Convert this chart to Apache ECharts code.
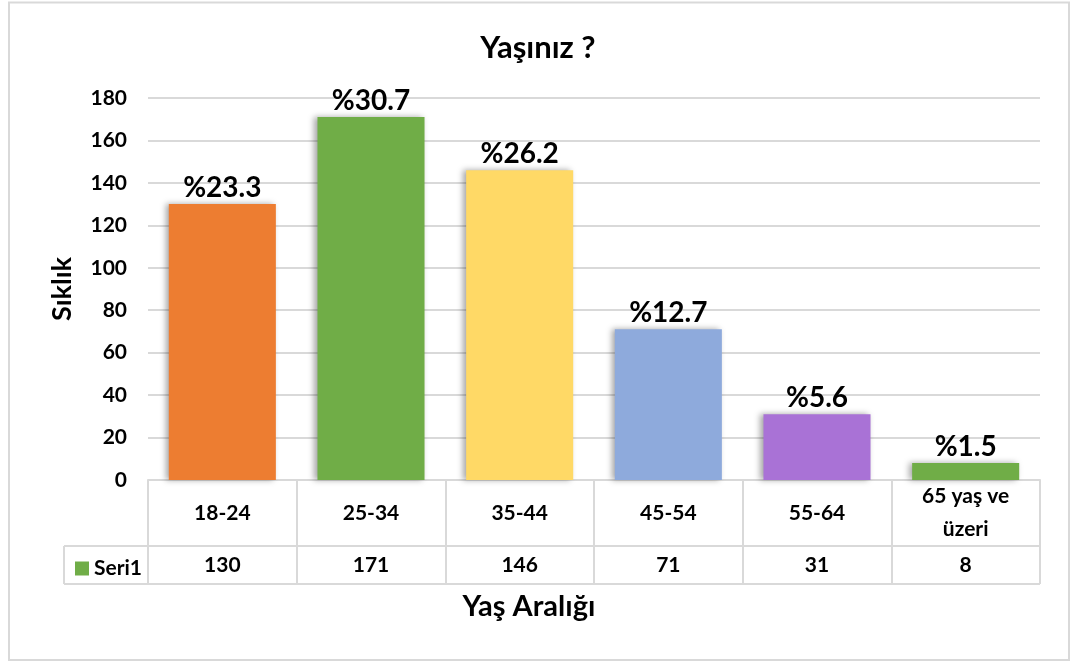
<!DOCTYPE html>
<html>
<head>
<meta charset="utf-8">
<script src="https://cdn.jsdelivr.net/npm/echarts@6/dist/echarts.min.js"></script>
<style>
    html, body { margin: 0; padding: 0; background: #fff; }
    #chart { width: 1076px; height: 662px; }
</style>
</head>
<body>
<div id="chart"></div>
<script>
var categories = ['18-24', '25-34', '35-44', '45-54', '55-64', '65 yaş ve\nüzeri'];
var values = [130, 171, 146, 71, 31, 8];
var percentLabels = ['%23.3', '%30.7', '%26.2', '%12.7', '%5.6', '%1.5'];
var barColors = ['#ed7d31', '#70ad47', '#ffd966', '#8eaadc', '#a972d6', '#70ad47'];
var yTicks = { min: 0, max: 180, interval: 20 };

var FONT = 'Lato, "Open Sans", sans-serif';
var gridColor = '#d9d9d9';

// plot area, the table sits right under it
var plotLeft = 148, plotRight = 1040, plotTop = 98, plotBottom = 480;
var rowLine = 546, tableBottom = 584, legendLeft = 64;

var chart = echarts.init(document.getElementById('chart'));

var barData = [];
for (var i = 0; i < values.length; i++) {
    barData.push({
        value: values[i],
        itemStyle: { color: barColors[i] }
    });
}

var option = {
    animation: false,
    backgroundColor: '#fff',
    textStyle: { fontFamily: FONT },
    title: [
        {
            text: 'Yaşınız ?',
            left: 'center',
            top: 27,
            textStyle: { fontSize: 31, fontWeight: 'bold', color: '#000', fontFamily: FONT }
        },
        {
            text: 'Yaş Aralığı',
            left: 524,
            textAlign: 'center',
            top: 587,
            textStyle: { fontSize: 29, fontWeight: 'bold', color: '#000', fontFamily: FONT }
        }
    ],
    legend: {
        data: ['Seri1'],
        left: 70,
        top: 553,
        icon: 'rect',
        itemWidth: 14,
        itemHeight: 14,
        itemGap: 6,
        textStyle: { fontSize: 21, fontWeight: 'bold', color: '#000', fontFamily: FONT }
    },
    grid: {
        left: plotLeft,
        right: 1076 - plotRight,
        top: plotTop,
        bottom: 662 - plotBottom,
        containLabel: false
    },
    xAxis: {
        type: 'category',
        data: categories,
        axisLine: { show: true, lineStyle: { color: gridColor, width: 2 } },
        axisTick: {
            show: true,
            interval: 0,
            alignWithLabel: false,
            length: tableBottom - plotBottom,
            lineStyle: { color: gridColor, width: 2 }
        },
        axisLabel: {
            interval: 0,
            margin: 0,
            formatter: function (val, idx) {
                var lines = val.split('\n');
                var head;
                if (lines.length > 1) {
                    head = '{h|' + lines[0] + '}\n{h|' + lines[1] + '}';
                }
                else {
                    head = '{c|' + val + '}';
                }
                return head + '\n{v|' + values[idx] + '}';
            },
            rich: {
                c: { fontSize: 21, fontWeight: 'bold', color: '#000', lineHeight: 66, fontFamily: FONT },
                h: { fontSize: 21, fontWeight: 'bold', color: '#000', lineHeight: 33, fontFamily: FONT },
                v: { fontSize: 21, fontWeight: 'bold', color: '#000', lineHeight: 38, fontFamily: FONT }
            }
        }
    },
    yAxis: {
        type: 'value',
        min: yTicks.min,
        max: yTicks.max,
        interval: yTicks.interval,
        name: 'Sıklık',
        nameLocation: 'middle',
        nameRotate: 90,
        nameGap: 72,
        nameTextStyle: { fontSize: 27, fontWeight: 'bold', color: '#000', fontFamily: FONT },
        axisLine: { show: false },
        axisTick: { show: false },
        axisLabel: {
            margin: 21,
            fontSize: 21,
            fontWeight: 'bold',
            color: '#000',
            fontFamily: FONT
        },
        splitLine: { lineStyle: { color: gridColor, width: 2 } }
    },
    series: [
        {
            name: 'Seri1',
            type: 'bar',
            data: barData,
            barWidth: '72%',
            itemStyle: {
                color: '#70ad47',
                shadowColor: 'rgba(0,0,0,0.35)',
                shadowBlur: 6,
                shadowOffsetX: -3,
                shadowOffsetY: 0
            },
            label: {
                show: true,
                position: 'top',
                distance: 2,
                formatter: function (p) {
                    return percentLabels[p.dataIndex];
                },
                fontSize: 28,
                fontWeight: 'bold',
                color: '#000',
                fontFamily: FONT
            }
        }
    ],
    graphic: [
        {
            type: 'rect',
            shape: { x: 9, y: 2.5, width: 1060, height: 657.5 },
            style: { fill: null, stroke: gridColor, lineWidth: 2 },
            silent: true
        },
        {
            type: 'line',
            shape: { x1: legendLeft, y1: rowLine, x2: plotRight, y2: rowLine },
            style: { stroke: gridColor, lineWidth: 2 },
            silent: true
        },
        {
            type: 'line',
            shape: { x1: legendLeft, y1: tableBottom, x2: plotRight, y2: tableBottom },
            style: { stroke: gridColor, lineWidth: 2 },
            silent: true
        },
        {
            type: 'line',
            shape: { x1: legendLeft, y1: rowLine, x2: legendLeft, y2: tableBottom },
            style: { stroke: gridColor, lineWidth: 2 },
            silent: true
        }
    ]
};

chart.setOption(option);
</script>
</body>
</html>
